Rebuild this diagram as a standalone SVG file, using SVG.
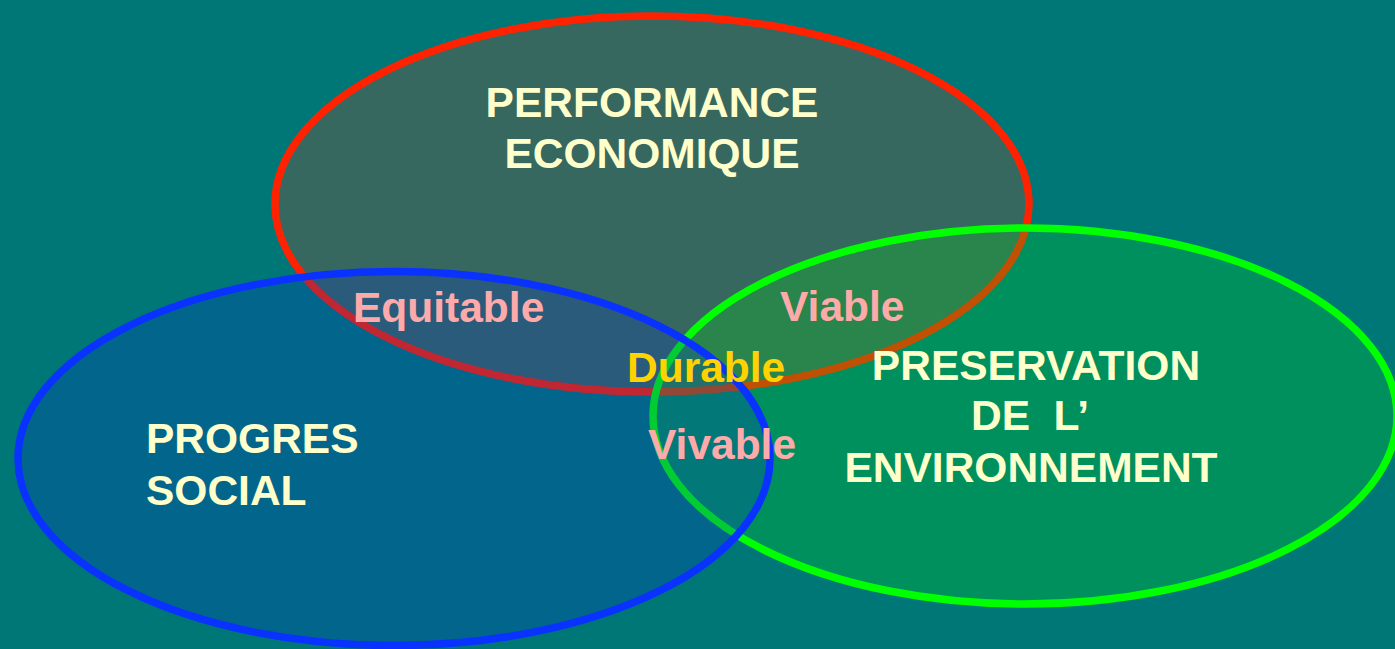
<svg xmlns="http://www.w3.org/2000/svg" width="1395" height="649" viewBox="0 0 1395 649">
<style>
.ell{stroke-width:7.5}
.t{font-family:"Liberation Sans",Arial,sans-serif;font-weight:bold;font-size:42.5px}
.main{fill:#ffffcc}
.pink{fill:#ffaaaa}
.gold{fill:#ffd200}
</style>
<rect width="1395" height="649" fill="#007777"/>
<g id="economique">
<ellipse class="ell" cx="652" cy="204" rx="377" ry="188" fill="rgb(220,59,23)" fill-opacity="0.25" stroke="#ff2200"/>
</g>
<g id="environnement">
<ellipse class="ell" cx="1025" cy="416" rx="372" ry="188" fill="rgb(0,219,15)" fill-opacity="0.25" stroke="#00ff00"/>
</g>
<g id="social">
<ellipse class="ell" cx="394" cy="458.5" rx="376" ry="187" fill="rgb(8,51,203)" fill-opacity="0.25" stroke="#0a32ff"/>
</g>
<g id="connectors"></g>
<g id="labels">
<text class="t main" x="652" y="117" text-anchor="middle">PERFORMANCE</text>
<text class="t main" x="652" y="168" text-anchor="middle">ECONOMIQUE</text>
<text class="t main" x="146" y="453">PROGRES</text>
<text class="t main" x="146" y="505">SOCIAL</text>
<text class="t main" x="1036" y="380" text-anchor="middle">PRESERVATION</text>
<text class="t main" x="1030" y="430" text-anchor="middle">DE&#160; L’</text>
<text class="t main" x="1031" y="482" text-anchor="middle">ENVIRONNEMENT</text>
<text class="t pink" x="353" y="322">Equitable</text>
<text class="t pink" x="780" y="321">Viable</text>
<text class="t gold" x="627" y="382">Durable</text>
<text class="t pink" x="648" y="459">Vivable</text>
</g>
</svg>
